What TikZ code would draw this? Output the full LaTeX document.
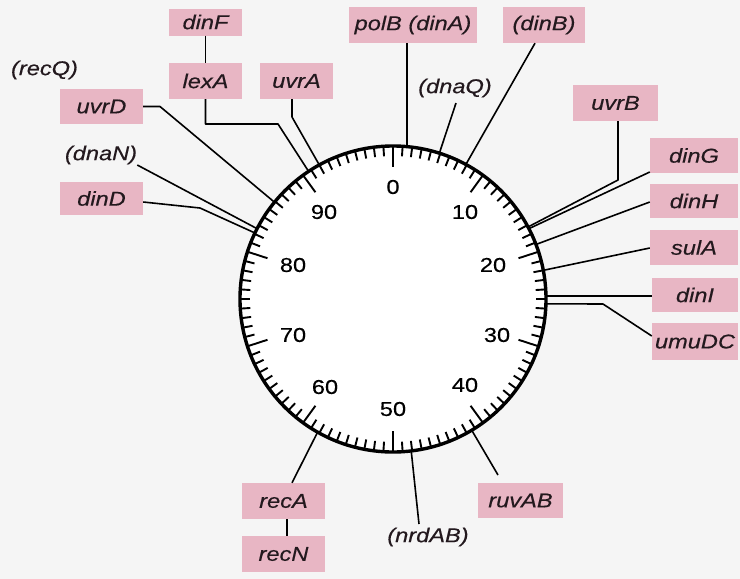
\documentclass[tikz,border=0pt]{standalone}
\usepackage{fontspec}
\newfontfamily\genefont[FakeStretch=1.18,FakeBold=0.4]{Liberation Sans}
\usetikzlibrary{calc}

\definecolor{boxpink}{RGB}{232,182,196}
\definecolor{paper}{RGB}{245,245,245}
\definecolor{ink}{RGB}{35,25,30}

\tikzset{
  genebox/.style={fill=boxpink, draw=none, inner sep=0pt, text=ink,
    font=\genefont\itshape\fontsize{20}{21}\selectfont},
  genetext/.style={inner sep=0pt, text=ink,
    font=\genefont\itshape\fontsize{20}{21}\selectfont},
  minnum/.style={inner sep=0pt, text=black,
    font=\genefont\fontsize{20}{21}\selectfont},
  lead/.style={line width=1.6pt, black, line join=round},
  ring/.style={line width=3.4pt, black},
  tickmark/.style={line width=1.9pt, black}
}

% map position (in minutes) -> point on the chromosome circle
\newcommand{\mappt}[2]{\coordinate (#1) at ({393+153*sin(3.6*#2)},{299-153*cos(3.6*#2)});}

\begin{document}
\begin{tikzpicture}[x=1pt,y=-1pt]
  \useasboundingbox (0,0) rectangle (740,579);
  \fill[paper] (0,0) rectangle (740,579);

  % chromosome circle with minute scale
  \coordinate (C) at (393,299);
  \fill[white] (C) circle[radius=153];
  \foreach \m in {0,...,99}{
    \pgfmathsetmacro{\len}{ifthenelse(mod(\m,10)==0,21,10)}
    \draw[tickmark] ({393+153*sin(3.6*\m)},{299-153*cos(3.6*\m)})
      -- ({393+(153-\len)*sin(3.6*\m)},{299-(153-\len)*cos(3.6*\m)});
  }
  \draw[ring] (C) circle[radius=153];

  % minute numbers
  \node[minnum] (n0)  at (393,187) {0};
  \node[minnum] (n10) at (465,212) {10};
  \node[minnum] (n20) at (493,265) {20};
  \node[minnum] (n30) at (497,335) {30};
  \node[minnum] (n40) at (465,385) {40};
  \node[minnum] (n50) at (393,409) {50};
  \node[minnum] (n60) at (325,387) {60};
  \node[minnum] (n70) at (293,335) {70};
  \node[minnum] (n80) at (293,265) {80};
  \node[minnum] (n90) at (324,212) {90};

  % gene positions on the map
  \mappt{gpolB}{1.45}
  \mappt{gdnaQ}{4.9}
  \mappt{gdinB}{7.9}
  \mappt{guvrB}{17.2}
  \mappt{gdinG}{17.4}
  \mappt{gdinH}{19.2}
  \mappt{gsulA}{22.0}
  \mappt{gdinI}{24.7}
  \mappt{gumuDC}{25.5}
  \mappt{gruvAB}{41.4}
  \mappt{gnrdAB}{48.1}
  \mappt{grecA}{58.2}
  \mappt{gdinD}{82.1}
  \mappt{gdnaN}{82.6}
  \mappt{guvrD}{85.9}
  \mappt{glexA}{90.7}
  \mappt{guvrA}{92.0}

  % gene labels
  \node[genebox, minimum width=73pt, minimum height=27pt] (dinF) at (205.5,22) {dinF};
  \node[genebox, minimum width=73pt, minimum height=36pt] (lexA) at (205.5,81) {lexA};
  \node[genebox, minimum width=73pt, minimum height=36pt] (uvrA) at (296.5,81) {uvrA};
  \node[genebox, minimum width=83pt, minimum height=35pt] (uvrD) at (101.5,106.5) {uvrD};
  \node[genebox, minimum width=83pt, minimum height=33pt] (dinD) at (101.5,198.5) {dinD};
  \node[genebox, minimum width=128pt, minimum height=36pt] (polB) at (413,25) {polB (dinA)};
  \node[genebox, minimum width=82pt, minimum height=36pt] (dinB) at (544,25) {(dinB)};
  \node[genebox, minimum width=85pt, minimum height=36pt] (uvrB) at (615.5,103) {uvrB};
  \node[genebox, minimum width=88pt, minimum height=35pt] (dinG) at (694,155.5) {dinG};
  \node[genebox, minimum width=88pt, minimum height=34pt] (dinH) at (694,201) {dinH};
  \node[genebox, minimum width=88pt, minimum height=35pt] (sulA) at (694,247.5) {sulA};
  \node[genebox, minimum width=86pt, minimum height=34pt] (dinI) at (695,295) {dinI};
  \node[genebox, minimum width=86pt, minimum height=37pt] (umuDC) at (695,341.5) {umuDC};
  \node[genebox, minimum width=85pt, minimum height=35pt] (ruvAB) at (520.5,500.5) {ruvAB};
  \node[genebox, minimum width=83pt, minimum height=36pt] (recA) at (283.5,501) {recA};
  \node[genebox, minimum width=83pt, minimum height=36pt] (recN) at (283.5,554) {recN};

  \node[genetext] (recQ)  at (44.5,70) {(recQ)};
  \node[genetext] (dnaN)  at (101,155) {(dnaN)};
  \node[genetext] (dnaQ)  at (455,88) {(dnaQ)};
  \node[genetext] (nrdAB) at (428,537) {(nrdAB)};

  % leader lines
  \draw[lead] (dinF.south) -- (lexA.north);
  \draw[lead] (lexA.south) -- (205.5,124) -- (278,124) -- (glexA);
  \draw[lead] (uvrA.south -| 292,0) -- (292,117) -- (guvrA);
  \draw[lead] (uvrD.east) -- (160,106.5) -- (guvrD);
  \draw[lead] (dnaN.east |- 0,165) -- (gdnaN);
  \draw[lead] (dinD.east |- 0,202) -- (200,208) -- (gdinD);
  \draw[lead] (polB.south -| gpolB) -- (gpolB);
  \draw[lead] (456,103) -- (gdnaQ);
  \draw[lead] (dinB.south -| 535,0) -- (gdinB);
  \draw[lead] (uvrB.south -| 618,0) -- (618,180) -- (guvrB);
  \draw[lead] (dinG.west |- 0,172) -- (gdinG);
  \draw[lead] (dinH.west |- 0,202) -- (gdinH);
  \draw[lead] (sulA.west |- 0,248) -- (gsulA);
  \draw[lead] (dinI.west |- gdinI) -- (gdinI);
  \draw[lead] (gumuDC) -- (603,304) -- (umuDC.west |- 0,336);
  \draw[lead] (gruvAB) -- (498,475);
  \draw[lead] (gnrdAB) -- (419,524);
  \draw[lead] (grecA) -- (recA.north -| 292,0);
  \draw[lead] (recA.south -| 287,0) -- (recN.north -| 287,0);
\end{tikzpicture}
\end{document}
